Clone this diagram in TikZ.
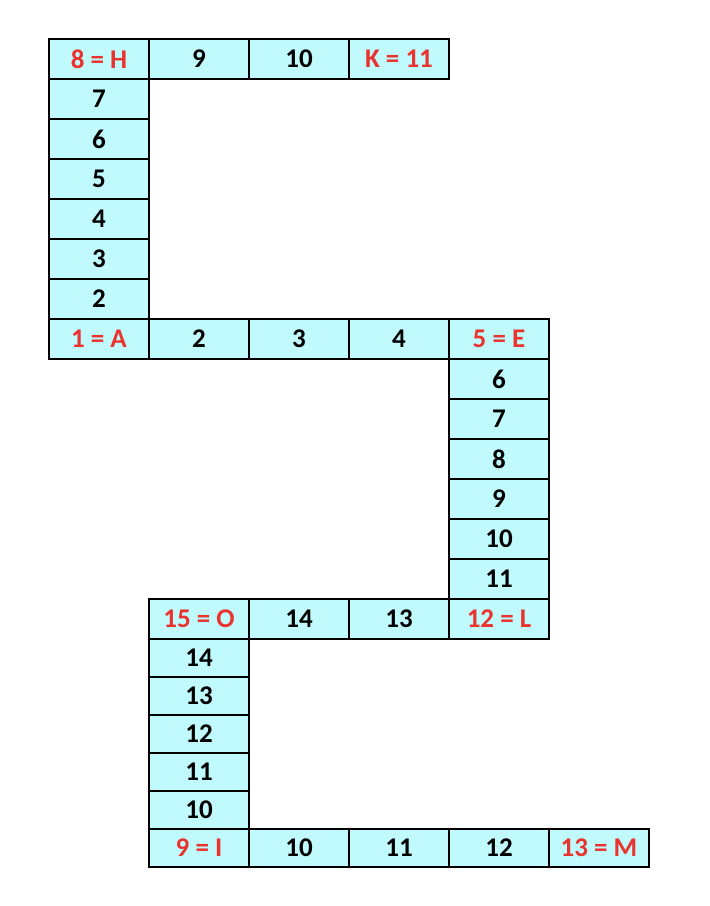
\documentclass[tikz,border=0pt]{standalone}
\usepackage{fontspec}
\setmainfont{Carlito}
\definecolor{cellfill}{RGB}{192,250,252}
\definecolor{redtxt}{RGB}{234,51,46}
\tikzset{
  cell/.style={draw=black, line width=2pt, fill=cellfill, minimum width=100pt, minimum height=40pt, inner sep=0pt, font=\fontsize{27}{32}\selectfont\bfseries, anchor=center},
  keycell/.style={cell, text=redtxt},
  short/.style={minimum height=38pt}
}
\begin{document}
\begin{tikzpicture}[x=1pt,y=-1pt]
\useasboundingbox (0,0) rectangle (710,906);
% top row
\node[keycell] (h8) at (99,59) {8 = H};
\node[cell] (t9) at (199,59) {9};
\node[cell] (t10) at (299,59) {10};
\node[keycell] (k11) at (399,59) {K = 11};
% left column
\node[cell] (l7) at (99,99) {7};
\node[cell] (l6) at (99,139) {6};
\node[cell] (l5) at (99,179) {5};
\node[cell] (l4) at (99,219) {4};
\node[cell] (l3) at (99,259) {3};
\node[cell] (l2) at (99,299) {2};
% middle row
\node[keycell] (a1) at (99,339) {1 = A};
\node[cell] (m2) at (199,339) {2};
\node[cell] (m3) at (299,339) {3};
\node[cell] (m4) at (399,339) {4};
\node[keycell] (e5) at (499,339) {5 = E};
% right column
\node[cell] (r6) at (499,379) {6};
\node[cell] (r7) at (499,419) {7};
\node[cell] (r8) at (499,459) {8};
\node[cell] (r9) at (499,499) {9};
\node[cell] (r10) at (499,539) {10};
\node[cell] (r11) at (499,579) {11};
% lower row
\node[keycell] (o15) at (199,619) {15 = O};
\node[cell] (n14) at (299,619) {14};
\node[cell] (n13) at (399,619) {13};
\node[keycell] (l12) at (499,619) {12 = L};
% lower column
\node[cell,short] (c14) at (199,658) {14};
\node[cell,short] (c13) at (199,696) {13};
\node[cell,short] (c12) at (199,734) {12};
\node[cell,short] (c11) at (199,772) {11};
\node[cell,short] (c10) at (199,810) {10};
% bottom row
\node[keycell,short] (i9) at (199,848) {9 = I};
\node[cell,short] (b10) at (299,848) {10};
\node[cell,short] (b11) at (399,848) {11};
\node[cell,short] (b12) at (499,848) {12};
\node[keycell,short] (m13) at (599,848) {13 = M};
\end{tikzpicture}
\end{document}
